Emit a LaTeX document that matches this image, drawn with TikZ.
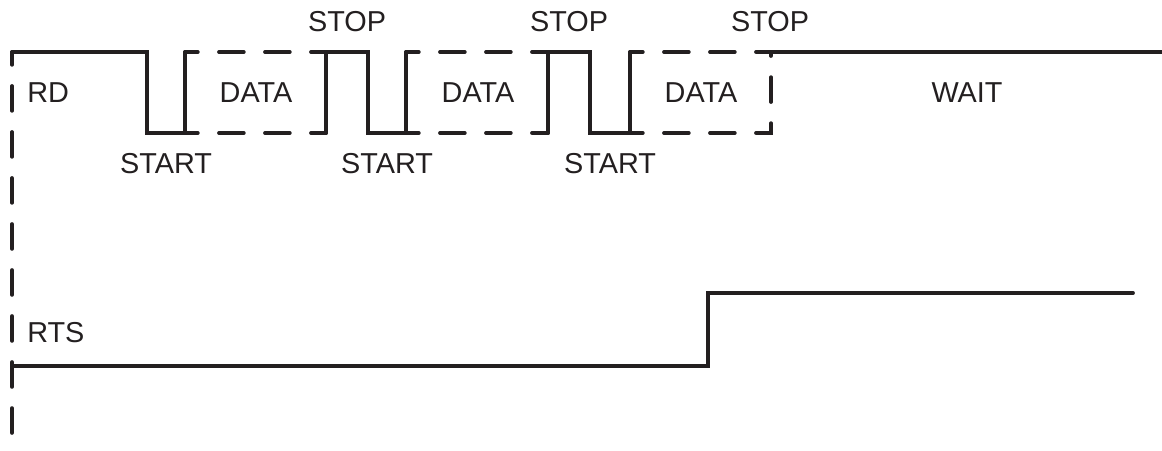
\documentclass[tikz,border=0pt]{standalone}
\usepackage{fontspec}
\setmainfont{Liberation Sans}
\definecolor{tinte}{RGB}{35,31,32}

\begin{document}
\begin{tikzpicture}[x=0.025cm, y=-0.025cm, color=tinte,
	signal/.style={line width=2.7pt, line cap=round, line join=miter},
	frame/.style={signal, dash pattern=on 0.62cm off 0.53cm, dash phase=0.3cm},
	beschr/.style={font=\fontsize{20.5}{24}\selectfont, inner sep=0pt}]

\useasboundingbox (0,0) rectangle (1162,450);

% Zeitachse
\draw[frame] (12,52) -- (12,450);

% RD
\draw[signal] (12,52) -- (147,52) -- (147,133) -- (185,133) -- (185,52);
\draw[signal] (326,133) -- (326,52) -- (368,52) -- (368,133) -- (406,133) -- (406,52);
\draw[signal] (548,133) -- (548,52) -- (590,52) -- (590,133) -- (630,133) -- (630,52);
\draw[signal] (771,52) -- (1162,52);
\foreach \a/\b in {185/326, 406/548}{
	\draw[frame] (\a,52) -- (\b,52);
	\draw[frame] (\a,133) -- (\b,133);
}
\draw[frame] (630,52) -- (771,52);
\draw[frame] (630,133) -- (771,133) -- (771,52);

% RTS
\draw[signal] (12,366) -- (708,366) -- (708,293) -- (1133,293);

% Beschriftung
\node[beschr, anchor=west] (rd) at (27,93) {RD};
\node[beschr, anchor=west] (rts) at (27,333) {RTS};
\node[beschr] (wait) at (967,93) {WAIT};
\foreach \x [count=\i] in {256, 478, 701}{
	\node[beschr] (data\i) at (\x,93) {DATA};
}
\foreach \x [count=\i] in {166, 387, 610}{
	\node[beschr] (start\i) at (\x,164) {START};
}
\foreach \x [count=\i] in {347, 569, 770}{
	\node[beschr] (stop\i) at (\x,22) {STOP};
}
\end{tikzpicture}
\end{document}
